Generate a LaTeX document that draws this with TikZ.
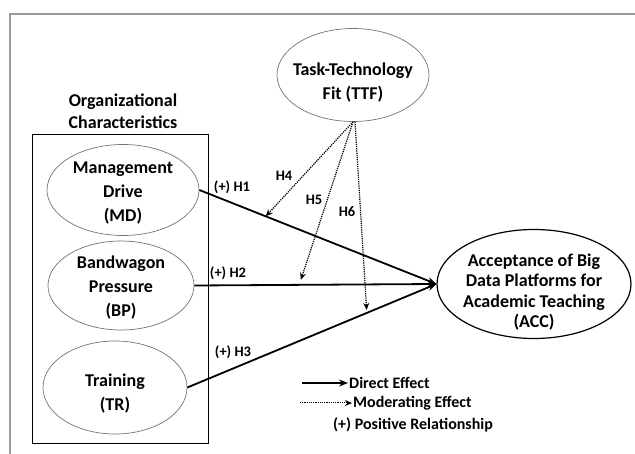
\documentclass[tikz,border=0pt]{standalone}
\usepackage{fontspec}
\setmainfont{Carlito}
\usetikzlibrary{arrows.meta,shapes.geometric}

\begin{document}
\begin{tikzpicture}[x=1pt,y=-1pt,
    font=\bfseries\fontsize{18}{24}\selectfont,
    construct/.style={ellipse,draw=black!55,line width=0.7pt,inner sep=0pt},
    ctext/.style={align=center,inner sep=0pt},
    direct/.style={line width=1.8pt,-{Stealth[length=9pt,width=7pt]}},
    moder/.style={line width=1.2pt,densely dotted,-{Stealth[length=7pt,width=6pt]}},
    hyp/.style={font=\bfseries\fontsize{14.5}{16}\selectfont,inner sep=1pt},
    legend/.style={anchor=west,inner sep=1pt,font=\bfseries\fontsize{16}{18}\selectfont}]
  \useasboundingbox (0,0) rectangle (635,454);
  % --- outer frame ---
  \draw[black!40,line width=2pt] (10,454) -- (10,14) -- (635,14);
  % --- moderator ---
  \node[construct,minimum width=152pt,minimum height=93pt] (ttf) at (353,75) {};
  \node[ctext] (ttftxt) at ([yshift=-8pt]ttf) {Task-Technology\\Fit (TTF)};
  % --- organizational characteristics ---
  \node[ctext,font=\bfseries\fontsize{18}{22}\selectfont] (orglbl) at (123,111) {Organizational\\Characteristics};
  \node[draw,line width=1pt,minimum width=176pt,minimum height=308pt] (org) at (120,289) {};
  \node[construct,minimum width=152pt,minimum height=91pt] (md) at (123,190) {};
  \node[ctext] (mdtxt) at ([yshift=-3pt]md) {Management\\Drive\\(MD)};
  \node[construct,minimum width=146pt,minimum height=89pt] (bp) at (121,285.5) {};
  \node[ctext] (bptxt) at ([yshift=-2pt]bp) {Bandwagon\\Pressure\\(BP)};
  \node[construct,minimum width=144pt,minimum height=93pt] (tr) at (115,387.5) {};
  \node[ctext] (trtxt) at ([yshift=-6pt]tr) {Training\\(TR)};
  % --- dependent construct ---
  \node[construct,draw=black,line width=1.2pt,minimum width=194pt,minimum height=109pt] (acc) at (534,284) {};
  \node[ctext,font=\bfseries\fontsize{18}{20.5}\selectfont] (acctxt) at ([yshift=-8pt]acc)
        {Acceptance of Big\\Data Platforms for\\Academic Teaching\\(ACC)};
  % --- direct effects ---
  \draw[direct] (md.east) -- coordinate[pos=0.28] (h1m) (acc.west);
  \draw[direct] (bp.east) -- coordinate[pos=0.44] (h2m) (acc.west);
  \draw[direct] (tr.east) -- coordinate[pos=0.72] (h3m) (acc.west);
  \node[hyp] (h1lbl) at (232,187) {(+) H1};
  \node[hyp] (h2lbl) at (228,273) {(+) H2};
  \node[hyp] (h3lbl) at (233,352) {(+) H3};
  % --- moderating effects ---
  \draw[moder] (ttf.south) -- (h1m);
  \draw[moder] (ttf.south) -- ([yshift=5pt]h2m);
  \draw[moder] ([xshift=2pt]ttf.south) -- ([yshift=3pt]h3m);
  \node[hyp] (h4lbl) at (284,176) {H4};
  \node[hyp] (h5lbl) at (314,200) {H5};
  \node[hyp] (h6lbl) at (347,212) {H6};
  % --- legend ---
  \coordinate (dstart) at (302,383);
  \node[legend] (dtxt) at (348,383) {Direct Effect};
  \draw[direct,line width=1.2pt] (dstart) -- (dtxt.west);
  \coordinate (mstart) at (300,403);
  \node[legend] (mtxt) at (352,403) {Moderating Effect};
  \draw[moder,line width=1pt] (mstart) -- (mtxt.west);
  \node[legend] (ptxt) at (332,425) {(+) Positive Relationship};
\end{tikzpicture}
\end{document}
